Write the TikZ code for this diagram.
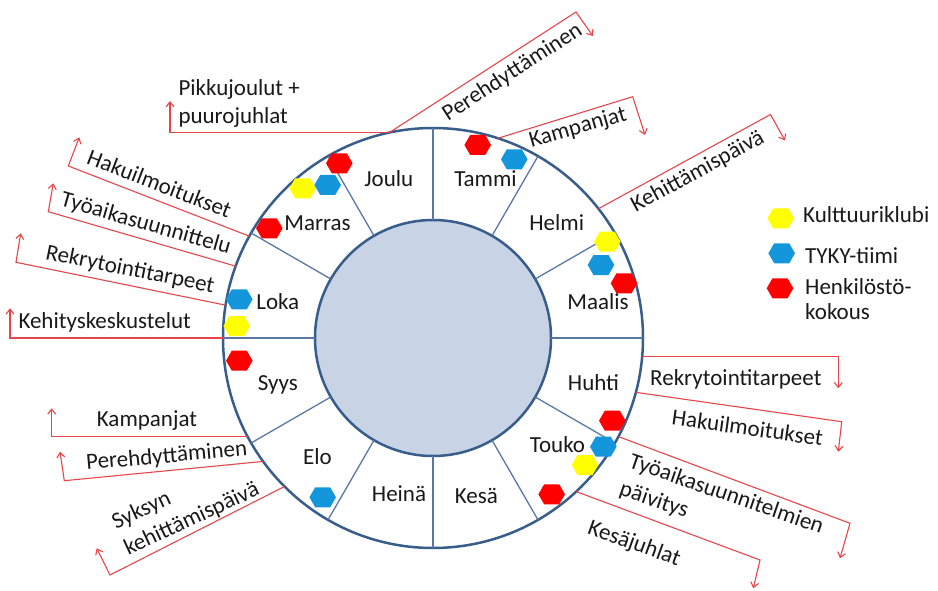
\documentclass[tikz,border=0pt]{standalone}
\usepackage{fontspec}
\setmainfont{Carlito}
\usetikzlibrary{arrows.meta}

\definecolor{rimblue}{RGB}{56,93,138}
\definecolor{spoke}{RGB}{90,120,165}
\definecolor{hubfill}{RGB}{200,212,230}
\definecolor{callred}{RGB}{230,70,75}
\definecolor{hexyellow}{RGB}{255,255,0}
\definecolor{hexblue}{RGB}{20,150,220}
\definecolor{hexred}{RGB}{255,0,0}

\tikzset{
  lbl/.style={font=\fontsize{23}{29}\selectfont, inner sep=0pt, text=black!90},
  callout/.style={draw=callred, line width=1.1pt, -{Straight Barb[length=5pt,width=8pt]}},
  hexa/.pic={\fill[#1] (-13.3,0) -- (-7.5,-10) -- (7.5,-10) -- (13.3,0) -- (7.5,10) -- (-7.5,10) -- cycle;},
  ring/.style={circle, draw=rimblue, line width=2.5pt, inner sep=0pt, outer sep=0pt},
}

\begin{document}
\begin{tikzpicture}[x=1pt,y=-1pt]
\useasboundingbox (0,0) rectangle (938,591);

% wheel: outer rim, hub and twelve month sectors
\coordinate (C) at (433,338);
\node[ring, minimum size=420pt] (rim) at (C) {};
\node[ring, fill=hubfill, minimum size=236pt] (hub) at (C) {};
\foreach \a in {0,30,...,330}
  \draw[spoke, line width=1.3pt] (hub.\a) -- (rim.\a);

% month names
\node[lbl, anchor=base] (joulu)  at (388.8,186)   {Joulu};
\node[lbl, anchor=base] (tammi)  at (485.5,186)   {Tammi};
\node[lbl, anchor=base] (helmi)  at (556.7,230)   {Helmi};
\node[lbl, anchor=base] (maalis) at (598,309.3)   {Maalis};
\node[lbl, anchor=base] (huhti)  at (593.5,390.7) {Huhti};
\node[lbl, anchor=base] (touko)  at (557.5,452.7) {Touko};
\node[lbl, anchor=base] (kesa)   at (476.3,503.3) {Kesä};
\node[lbl, anchor=base] (heina)  at (399,501.7)   {Heinä};
\node[lbl, anchor=base] (elo)    at (317.5,464)   {Elo};
\node[lbl, anchor=base] (syys)   at (277.8,390)   {Syys};
\node[lbl, anchor=base] (loka)   at (277.8,309.3) {Loka};
\node[lbl, anchor=base] (marras) at (317.5,230)   {Marras};

% event markers
\pic at (339.3,163.3) {hexa=hexred};
\pic at (302.7,188.3) {hexa=hexyellow};
\pic at (327.7,185)   {hexa=hexblue};
\pic at (269.3,228.3) {hexa=hexred};
\pic at (477.7,145)   {hexa=hexred};
\pic at (514.3,159.3) {hexa=hexblue};
\pic at (607.3,241.7) {hexa=hexyellow};
\pic at (601,265)     {hexa=hexblue};
\pic at (624,283.3)   {hexa=hexred};
\pic at (239.3,299.3) {hexa=hexblue};
\pic at (236.7,326)   {hexa=hexyellow};
\pic at (239.3,360.7) {hexa=hexred};
\pic at (322.7,497.3) {hexa=hexblue};
\pic at (612.3,420.7) {hexa=hexred};
\pic at (603.3,446.7) {hexa=hexblue};
\pic at (585,465)     {hexa=hexyellow};
\pic at (551.7,494.3) {hexa=hexred};

% legend
\pic at (780.7,218.3) {hexa=hexyellow};
\pic at (781.7,253.3) {hexa=hexblue};
\pic at (780,288.3)   {hexa=hexred};
\node[lbl, anchor=base west] (legK)  at (803,222.7) {Kulttuuriklubi};
\node[lbl, anchor=base west] (legT)  at (805,263.3) {TYKY-tiimi};
\node[lbl, anchor=base west] (legH1) at (805,294)   {Henkilöstö-};
\node[lbl, anchor=base west] (legH2) at (805,319)   {kokous};

% callout texts
\node[lbl, rotate=33]   (perT) at (512.5,72.5)  {Perehdyttäminen};
\node[lbl, rotate=16]   (kamT) at (578,128)     {Kampanjat};
\node[lbl, rotate=28.5] (kehT) at (697.8,171.7) {Kehittämispäivä};
\node[lbl, anchor=base west] (rekR) at (650,385) {Rekrytointitarpeet};
\node[lbl, rotate=-8]   (hakR) at (747.5,427.5) {Hakuilmoitukset};
\node[lbl, rotate=-19, anchor=north west, align=left] (tyoR) at (633,452) {Työaikasuunnitelmien\\päivitys};
\node[lbl, rotate=-20]  (kesJ) at (634,544)     {Kesäjuhlat};
\node[lbl, anchor=base west] (pik1) at (178.3,96)    {Pikkujoulut +};
\node[lbl, anchor=base west] (pik2) at (178.3,123.3) {puurojuhlat};
\node[lbl, rotate=-21]  (hakL) at (159.5,183.7) {Hakuilmoitukset};
\node[lbl, rotate=-16]  (tyoL) at (145.8,224.2) {Työaikasuunnittelu};
\node[lbl, rotate=-11.3] (rekL) at (130,270)    {Rekrytointitarpeet};
\node[lbl, anchor=base west] (kesk) at (18.3,328.3) {Kehityskeskustelut};
\node[lbl, anchor=base west] (kamL) at (96.7,426)   {Kampanjat};
\node[lbl, rotate=5]    (perL) at (166.7,456.7) {Perehdyttäminen};
\node[lbl, rotate=25, anchor=north west, align=left] (syk) at (109,515) {Syksyn\\kehittämispäivä};

% callout bends and arrow ends
\coordinate (perC) at (576,12);      \coordinate (perE) at (593,36);
\coordinate (pikE) at (170,101);
\coordinate (kamC) at (632.7,96.7);  \coordinate (kamE) at (645,135);
\coordinate (kehC) at (770.5,114.5); \coordinate (kehE) at (785,140.5);
\coordinate (rekRE) at (838.3,388.3);
\coordinate (hakRC) at (841.7,421.7); \coordinate (hakRE) at (838.3,451.7);
\coordinate (tyoRC) at (850,523.3);   \coordinate (tyoRE) at (840,558.3);
\coordinate (kesC) at (760,560);      \coordinate (kesE) at (753.3,588.3);
\coordinate (hakLC) at (68.3,166);    \coordinate (hakLE) at (79.3,137.3);
\coordinate (tyoLC) at (48.3,211.7);  \coordinate (tyoLE) at (53.3,183.3);
\coordinate (rekLC) at (16,262.3);    \coordinate (rekLE) at (20.7,233.3);
\coordinate (keskE) at (10,308.3);
\coordinate (kamLE) at (51.7,408.3);
\coordinate (perLC) at (64.3,480.7);  \coordinate (perLE) at (60,451.7);
\coordinate (sykC) at (110,575);      \coordinate (sykE) at (96.7,548.3);

% callout lines
\draw[callout] (rim.102) -- (perC) -- (perE);
\draw[callout] (rim.102) -| (pikE);
\draw[callout] (rim.72) -- (kamC) -- (kamE);
\draw[callout] (rim.38) -- (kehC) -- (kehE);
\draw[callout] (rim.355) -| (rekRE);
\draw[callout] (rim.345) -- (hakRC) -- (hakRE);
\draw[callout] (rim.332) -- (tyoRC) -- (tyoRE);
\draw[callout] (rim.313) -- (kesC) -- (kesE);
\draw[callout] (rim.151) -- (hakLC) -- (hakLE);
\draw[callout] (rim.160) -- (tyoLC) -- (tyoLE);
\draw[callout] (rim.171) -- (rekLC) -- (rekLE);
\draw[callout] (rim.180) -| (keskE);
\draw[callout] (rim.208) -| (kamLE);
\draw[callout] (rim.216) -- (perLC) -- (perLE);
\draw[callout] (rim.225) -- (sykC) -- (sykE);
\end{tikzpicture}
\end{document}
